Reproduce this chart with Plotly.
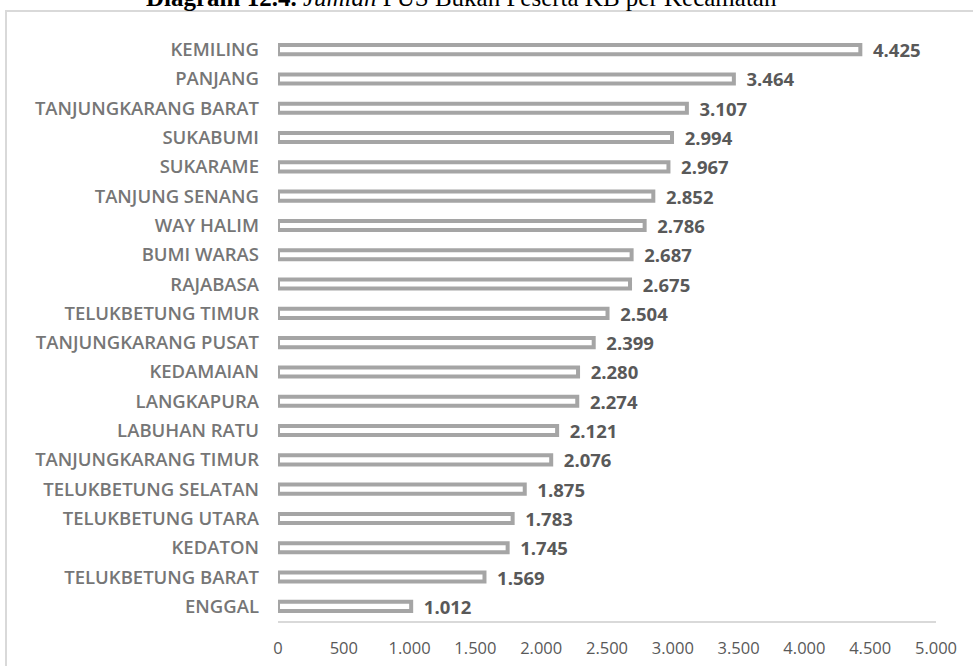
import plotly.graph_objects as go

kecamatan = ['ENGGAL', 'TELUKBETUNG BARAT', 'KEDATON', 'TELUKBETUNG UTARA',
             'TELUKBETUNG SELATAN', 'TANJUNGKARANG TIMUR', 'LABUHAN RATU',
             'LANGKAPURA', 'KEDAMAIAN', 'TANJUNGKARANG PUSAT', 'TELUKBETUNG TIMUR',
             'RAJABASA', 'BUMI WARAS', 'WAY HALIM', 'TANJUNG SENANG', 'SUKARAME',
             'SUKABUMI', 'TANJUNGKARANG BARAT', 'PANJANG', 'KEMILING']
pus_bukan_kb = [1012, 1569, 1745, 1783, 1875, 2076, 2121, 2274, 2280, 2399, 2504,
                2675, 2687, 2786, 2852, 2967, 2994, 3107, 3464, 4425]
x_ticks = [0, 500, 1000, 1500, 2000, 2500, 3000, 3500, 4000, 4500, 5000]

fig = go.Figure()
fig.add_trace(
    go.Bar(x=pus_bukan_kb,
           y=kecamatan,
           orientation='h',
           width=0.31,
           marker=dict(color='white', line=dict(color='#a5a5a5', width=4)),
           text=pus_bukan_kb,
           texttemplate='  %{x:,}',
           textposition='outside',
           constraintext='none',
           textfont=dict(family='Open Sans', size=18.5, color='#595959', weight='bold'),
           cliponaxis=False,
           hoverinfo='skip')
)

fig.update_layout(
    width=973, height=666,
    margin=dict(l=278, r=37, t=35, b=45),
    plot_bgcolor='white', paper_bgcolor='white',
    separators=',.',
    showlegend=False,
    font=dict(family='Open Sans'),
)
fig.update_xaxes(range=[0, 5000], tickvals=x_ticks, tickformat=',',
                 showgrid=False, zeroline=False,
                 showline=True, linecolor='#d9d9d9', linewidth=1.5,
                 ticks='', ticklabelstandoff=11, automargin=False,
                 tickfont=dict(family='Open Sans', size=16.5, color='#595959'))
fig.update_yaxes(showgrid=False, zeroline=False, showline=False, ticks='',
                 ticklabelstandoff=18, automargin=False,
                 tickfont=dict(family='Open Sans', size=18.5, color='#767676', weight=600))

# bingkai grafik
fig.add_shape(type='rect', xref='paper', yref='paper',
              x0=-0.4134, x1=1.2, y0=-0.2, y1=1.041,
              line=dict(color='#d9d9d9', width=2), fillcolor='rgba(0,0,0,0)',
              layer='below')

fig.add_annotation(xref='paper', yref='paper', x=0.2796, y=1.0648,
                   xanchor='center', yanchor='middle', showarrow=False,
                   text='<b>Diagram 12.4.</b> <i>Jumlah</i> PUS Bukan Peserta KB per Kecamatan',
                   font=dict(family='Liberation Serif', size=25, color='black'))

fig.write_html('out.html', config={'displayModeBar': False},
               post_script="document.body.style.margin='0px';")
